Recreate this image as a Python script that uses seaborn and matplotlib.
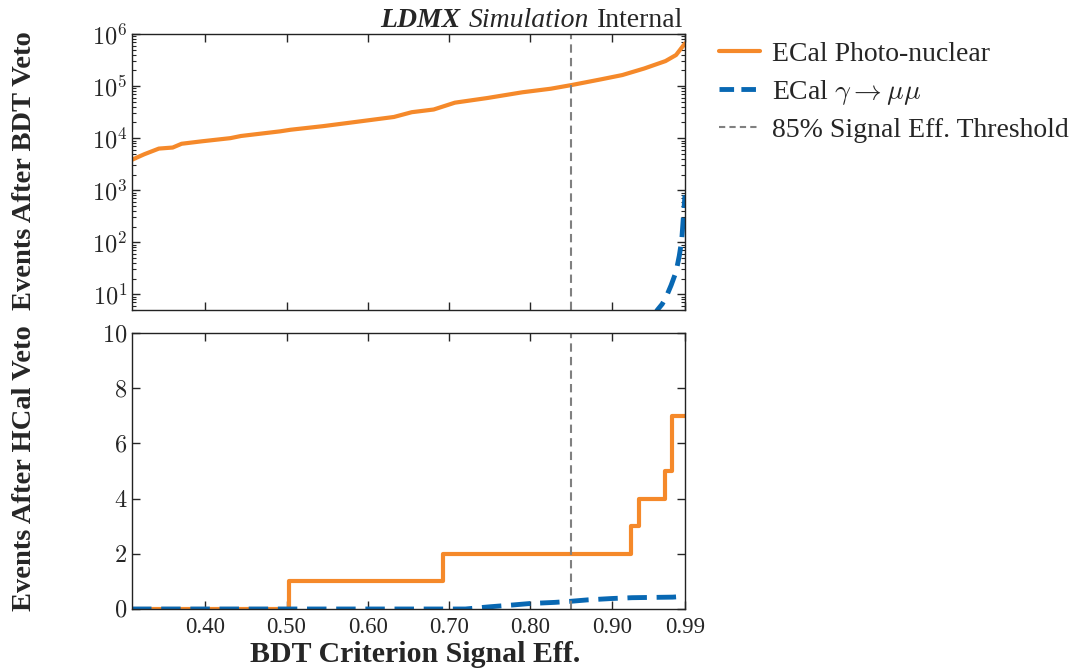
import numpy as np
import pandas as pd
import matplotlib
matplotlib.use("Agg")
import matplotlib.pyplot as plt
import seaborn as sns
from matplotlib.lines import Line2D
from matplotlib.offsetbox import TextArea, HPacker, AnchoredOffsetbox
from matplotlib.ticker import FixedLocator, FuncFormatter, LogLocator, NullFormatter

# ---- data ----
pn_top_x = [0.310, 0.325, 0.343, 0.360, 0.371, 0.396, 0.431, 0.444, 0.492, 0.505,
            0.545, 0.580, 0.632, 0.654, 0.681, 0.707, 0.747, 0.790, 0.825, 0.851,
            0.887, 0.913, 0.940, 0.966, 0.979, 0.990]
pn_top_y = [3850, 4900, 6300, 6600, 7800, 8700, 10000, 11000, 13500, 14500,
            17000, 20000, 25500, 31500, 35500, 48000, 59000, 76000, 89000, 105000,
            135000, 163000, 218000, 302000, 395000, 660000]
mm_top_x = [0.950, 0.956, 0.962, 0.967, 0.973, 0.979, 0.983, 0.986, 0.988, 0.990]
mm_top_y = [3.5, 5, 6.5, 9, 15, 27, 55, 110, 300, 800]

pn_bot_x = [0.310, 0.503, 0.693, 0.924, 0.934, 0.966, 0.974, 0.990]
pn_bot_y = [0, 1, 2, 3, 4, 5, 7, 7]
mm_bot_x = [0.310, 0.720, 0.750, 0.780, 0.800, 0.830, 0.850, 0.870, 0.900, 0.925,
            0.950, 0.975, 0.985, 0.990]
mm_bot_y = [0, 0, 0.08, 0.15, 0.20, 0.24, 0.28, 0.33, 0.38, 0.41, 0.42, 0.43, 0.45, 0.52]

threshold = 0.85
x_ticks = [0.40, 0.50, 0.60, 0.70, 0.80, 0.90, 0.99]
x_tick_labels = ["0.40", "0.50", "0.60", "0.70", "0.80", "0.90", "0.99"]
y_bot_ticks = [0, 2, 4, 6, 8, 10]

labels = ["ECal Photo-nuclear", r"ECal $\gamma\rightarrow\mu\mu$", "85% Signal Eff. Threshold"]

# ---- style ----
sns.set_style("ticks")
plt.rcParams["font.family"] = ["Liberation Serif", "DejaVu Serif"]
plt.rcParams["mathtext.fontset"] = "cm"
plt.rcParams["xtick.direction"] = "in"
plt.rcParams["ytick.direction"] = "in"
plt.rcParams["axes.linewidth"] = 1.0

ORANGE = "#F5892A"
BLUE = "#0868B3"
GRAY = "#808080"
FS = 16.5
FS_LEG = 20
FS_LAB = 20.5

fig = plt.figure(figsize=(10.84, 6.71), dpi=100)
ax1 = fig.add_axes([0.1218, 0.538, 0.5101, 0.4113])
ax2 = fig.add_axes([0.1218, 0.0924, 0.5101, 0.4113])

df_pn_top = pd.DataFrame({"x": pn_top_x, "y": pn_top_y})
df_mm_top = pd.DataFrame({"x": mm_top_x, "y": mm_top_y})
df_pn_bot = pd.DataFrame({"x": pn_bot_x, "y": pn_bot_y})
df_mm_bot = pd.DataFrame({"x": mm_bot_x, "y": mm_bot_y})

sns.lineplot(data=df_pn_top, x="x", y="y", ax=ax1, color=ORANGE, lw=3, estimator=None, sort=False)
sns.lineplot(data=df_mm_top, x="x", y="y", ax=ax1, color=BLUE, lw=3.5, estimator=None, sort=False,
             dashes=False, linestyle=(0, (4, 2)))
sns.lineplot(data=df_pn_bot, x="x", y="y", ax=ax2, color=ORANGE, lw=3, estimator=None, sort=False,
             drawstyle="steps-post")
sns.lineplot(data=df_mm_bot, x="x", y="y", ax=ax2, color=BLUE, lw=3.5, estimator=None, sort=False,
             dashes=False, linestyle=(0, (4, 2)))

for ax in (ax1, ax2):
    ax.axvline(threshold, color=GRAY, lw=1.5, linestyle=(0, (4, 2.5)))
    ax.set_xlim(0.31, 0.99)
    ax.xaxis.set_major_locator(FixedLocator(x_ticks))
    ax.tick_params(which="both", direction="in", top=True, right=True)
    ax.tick_params(which="major", length=6, width=1, labelsize=FS)
    ax.tick_params(which="minor", length=3, width=0.8)
    ax.set_xlabel("")
    ax.set_ylabel("")
    for s in ax.spines.values():
        s.set_color("#222222")

ax1.set_yscale("log")
ax1.set_ylim(5, 1e6)
ax1.yaxis.set_major_locator(LogLocator(base=10, numticks=10))
ax1.yaxis.set_major_formatter(FuncFormatter(lambda v, p: r"$10^{%d}$" % round(np.log10(v))))
ax1.yaxis.set_minor_locator(LogLocator(base=10, subs=np.arange(2, 10), numticks=20))
ax1.yaxis.set_minor_formatter(NullFormatter())
ax1.set_xticklabels([])
ax1.tick_params(axis="y", labelsize=17.5)

ax2.set_ylim(0, 10)
ax2.yaxis.set_major_locator(FixedLocator(y_bot_ticks))
ax2.yaxis.set_major_formatter(FuncFormatter(lambda v, p: r"$%d$" % v))
ax2.set_xticklabels(x_tick_labels)
ax2.tick_params(axis="x", pad=6)
ax2.tick_params(axis="y", labelsize=17.5)

# axis labels
fig.text(0.023, 0.746, "Events After BDT Veto", rotation=90, ha="center", va="center",
         fontsize=FS_LAB, fontweight="bold")
fig.text(0.023, 0.302, "Events After HCal Veto", rotation=90, ha="center", va="center",
         fontsize=FS_LAB, fontweight="bold")
fig.text(0.383, 0.024, "BDT Criterion Signal Eff.", ha="center", va="center",
         fontsize=FS_LAB + 1, fontweight="bold")

# title
parts = [TextArea("LDMX", textprops=dict(fontsize=FS_LEG, fontweight="bold", fontstyle="italic")),
         TextArea("Simulation", textprops=dict(fontsize=FS_LEG, fontstyle="italic")),
         TextArea("Internal", textprops=dict(fontsize=FS_LEG))]
box = HPacker(children=parts, align="baseline", pad=0, sep=6)
anch = AnchoredOffsetbox(loc="lower right", child=box, pad=0, frameon=False,
                         bbox_to_anchor=(1.0, 1.0), bbox_transform=ax1.transAxes, borderpad=0.1)
ax1.add_artist(anch)

# legend
handles = [Line2D([], [], color=ORANGE, lw=3),
           Line2D([], [], color=BLUE, lw=3.5, linestyle=(0, (3, 1.5))),
           Line2D([], [], color=GRAY, lw=1.5, linestyle=(0, (3, 2)))]
fig.legend(handles, labels, loc="upper left", bbox_to_anchor=(0.640, 0.976), frameon=False,
           fontsize=FS_LEG, handlelength=1.5, handletextpad=0.4, labelspacing=0.4)

fig.savefig("out.png", dpi=100)
